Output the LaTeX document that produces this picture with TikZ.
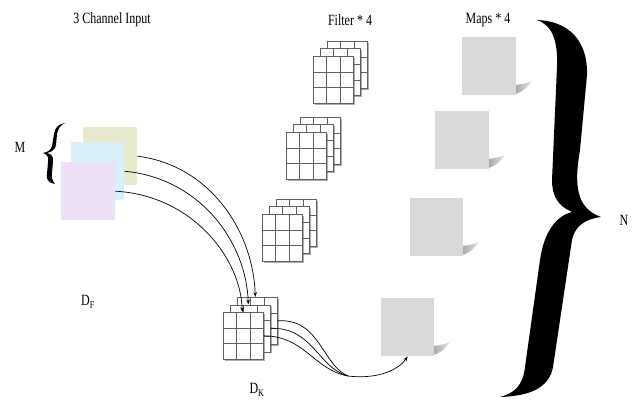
\documentclass[tikz,border=0pt]{standalone}
\usepackage{fontspec}
\usepackage{graphicx}
\setmainfont{Liberation Serif}
\usetikzlibrary{arrows.meta,calc,shadows}

\definecolor{planeG}{RGB}{230,235,205}
\definecolor{planeB}{RGB}{215,240,250}
\definecolor{planeP}{RGB}{236,225,248}
\definecolor{mapgray}{RGB}{217,217,217}
\definecolor{gridgray}{RGB}{95,95,95}

% tall, narrow lettering
\newcommand\tallword[1]{\scalebox{1}[1.3]{#1}}

\tikzset{
  cell/.style={draw=gridgray, line width=0.6pt},
  gridbox/.style={rectangle, draw=gridgray, line width=0.6pt, fill=white,
    minimum width=40pt, minimum height=47pt, inner sep=0pt, anchor=north west,
    drop shadow={shadow xshift=1.6pt, shadow yshift=-1.6pt, opacity=0.45, fill=black!70},
    path picture={
      \foreach \f in {0.3333,0.6667}{
        \draw[cell] ($(path picture bounding box.north west)!\f!(path picture bounding box.north east)$)
                 -- ($(path picture bounding box.south west)!\f!(path picture bounding box.south east)$);
        \draw[cell] ($(path picture bounding box.north west)!\f!(path picture bounding box.south west)$)
                 -- ($(path picture bounding box.north east)!\f!(path picture bounding box.south east)$);
      }
    }},
  plane/.style={rectangle, minimum width=54pt, minimum height=58pt, inner sep=0pt, anchor=north west},
  featmap/.style={rectangle, fill=mapgray, minimum width=54pt, minimum height=58pt, inner sep=0pt, anchor=north west},
  link/.style={line width=0.7pt},
  tip/.style={-{Stealth[length=5pt,width=3.6pt]}},
  lbl/.style={inner sep=0pt, font=\fontsize{12}{14}\selectfont},
}

% three stacked 3x3 filters; #2,#3 = top-left corner of the front one
\newcommand\filterstack[3]{%
  \node[gridbox] (#1b) at (#2+14,#3-15) {};
  \node[gridbox] (#1m) at (#2+7,#3-7.5) {};
  \node[gridbox] (#1f) at (#2,#3) {};
}

% soft curled shadow behind the lower right corner of a map at (#1,#2)
\newcommand\mapshadow[2]{%
  \begin{scope}[shift={(#1,#2)}]
    \shade[left color=black!42, right color=black!10]
      (-6,-0.5) .. controls (4,-0.5) and (10,-6) .. (16,-14)
      .. controls (9,-11) and (3,-10) .. (-6,-10) -- cycle;
  \end{scope}
}

\begin{document}
\begin{tikzpicture}[x=1pt,y=-1pt]
\useasboundingbox (0,0) rectangle (638,401);

% titles
\node[lbl] (tin)  at (112,20) {\tallword{3 Channel Input}};
\node[lbl] (tfil) at (350,20) {\tallword{Filter * 4}};
\node[lbl] (tmap) at (488,20) {\tallword{Maps * 4}};

% input channels
\node[plane, fill=planeG] (pg) at (83,127) {};
\node[plane, fill=planeB, minimum width=53pt] (pb) at (71,142) {};
\node[plane, fill=planeP] (pp) at (61,162) {};

\node[lbl] (lm) at (20,147) {\tallword{M}};
\fill (65,123) .. controls (58,124) and (55,128) .. (54,134)
  -- (52,146) .. controls (51,150) and (48,152) .. (43,153)
  .. controls (47,154) and (49,157) .. (48,162)
  -- (47,174) .. controls (46,180) and (49,183) .. (55,184)
  .. controls (52.5,181) and (51.5,178) .. (52,173)
  -- (53,161) .. controls (53.5,156) and (51,154) .. (47,153)
  .. controls (52,152) and (55.5,149) .. (56,145)
  -- (57,134) .. controls (58,128) and (61,125) .. (65,123) -- cycle;

\node[lbl] (ldf) at (88,302) {\tallword{D\textsubscript{F}}};

% filters
\filterstack{sa}{313}{56}
\filterstack{sb}{286}{132}
\filterstack{sc}{262}{214}
\filterstack{dk}{223}{312}

\node[lbl] (ldk) at (257,390) {\tallword{D\textsubscript{K}}};

% feature maps with their shadows
\mapshadow{516}{95}
\mapshadow{489}{169}
\mapshadow{463}{256}
\mapshadow{434}{356}
\node[featmap] (m1) at (462,37) {};
\node[featmap] (m2) at (435,111) {};
\node[featmap, minimum width=53pt] (m3) at (410,198) {};
\node[featmap, minimum width=53pt] (m4) at (381,298) {};

% channels into the filter
\draw[link,tip] (pg.east) .. controls +(73,9) and +(-2,-65) .. ([xshift=-2pt]dkb.north);
\draw[link,tip] (pb.east) .. controls +(76,7) and +(-2,-62) .. ([xshift=-2pt]dkm.north);
\draw[link,tip] (pp.east) .. controls +(75,4) and +(-2,-56) .. ([xshift=-1pt]dkf.north);

% filter outputs merging into one map
\coordinate (merge) at (348,376);
\draw[link] (dkb.east) .. controls (320,318) and (322,365) .. (merge);
\draw[link] (dkm.east) .. controls (313,327) and (318,368) .. (merge);
\draw[link] (dkf.east) .. controls (305,336) and (314,370) .. (merge);
\draw[link,tip] (merge) .. controls (372,379) and (396,373) .. (m4.south);

% large brace over all maps
\fill (537,20) .. controls (568,21) and (588,40) .. (587,75)
  -- (580,150) .. controls (574,185) and (576,208) .. (601,217)
  .. controls (585,219) and (575,226) .. (572,240)
  -- (553,367) .. controls (549,388) and (530,396) .. (500,397)
  .. controls (515,393) and (523,385) .. (525,367)
  -- (540,260) .. controls (544,232) and (556,216) .. (572,212)
  .. controls (558,206) and (552,196) .. (552,180)
  -- (557,67) .. controls (558,40) and (552,25) .. (537,20) -- cycle;

\node[lbl] (ln) at (624,220) {\tallword{N}};
\end{tikzpicture}
\end{document}
